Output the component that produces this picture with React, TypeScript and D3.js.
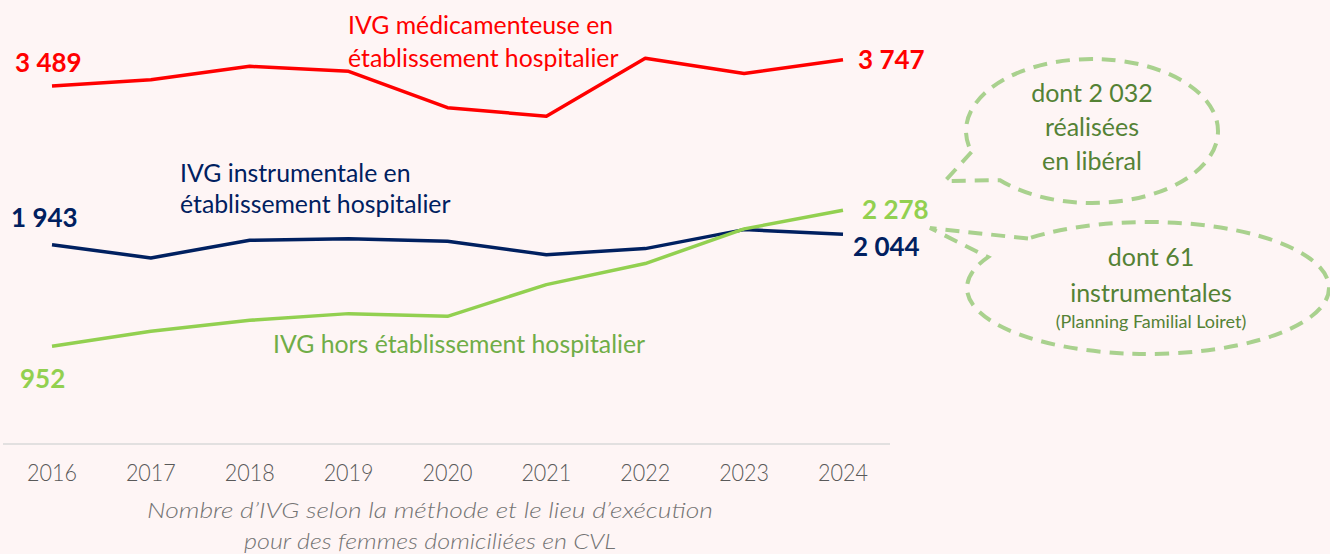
import React from "react";
import * as d3 from "d3";

const years = [2016, 2017, 2018, 2019, 2020, 2021, 2022, 2023, 2024];
const medicamenteuse = [3489, 3552, 3682, 3633, 3279, 3195, 3760, 3611, 3747];
const instrumentale = [1943, 1814, 1986, 2000, 1976, 1846, 1905, 2090, 2044];
const horsEtab = [952, 1099, 1206, 1271, 1245, 1554, 1759, 2097, 2278];

const W = 1330;
const H = 554;
const BG = "#FEF5F5";
const RED = "#FF0000";
const NAVY = "#002060";
const GREEN = "#92D050";
const GREEN_TXT = "#70AD47";
const DARK_GREEN = "#548235";
const BUBBLE = "#A9D18E";
const FONT = "Lato, 'Open Sans', sans-serif";

const fmt = (v: number) => d3.format(",")(v).replace(/,/g, " ");

function bubblePath(
  rx: number, ry: number,
  p1: [number, number], tip: [number, number], p2: [number, number]
) {
  return `M${p1[0]},${p1[1]} L${tip[0]},${tip[1]} L${p2[0]},${p2[1]} A${rx},${ry} 0 1 0 ${p1[0]},${p1[1]}`;
}

function pointAtY(cx: number, cy: number, rx: number, ry: number, yy: number): [number, number] {
  const t = (yy - cy) / ry;
  const dx = rx * Math.sqrt(Math.max(0, 1 - t * t));
  return [cx - dx, yy];
}
function pointAtX(cx: number, cy: number, rx: number, ry: number, xx: number, upper: boolean): [number, number] {
  const t = (xx - cx) / rx;
  const dy = ry * Math.sqrt(Math.max(0, 1 - t * t));
  return [xx, upper ? cy - dy : cy + dy];
}

export default function App() {
  const x = d3.scalePoint<number>().domain(years).range([52, 843]);
  const y = d3.scaleLinear().domain([0, 4000]).range([444, 33.7]);
  const line = d3
    .line<number>()
    .x((_, i) => x(years[i]) as number)
    .y((d) => y(d));

  const series = [
    { values: medicamenteuse, color: RED },
    { values: instrumentale, color: NAVY },
    { values: horsEtab, color: GREEN },
  ];

  const last = years[years.length - 1];

  // bubbles
  const b1 = { cx: 1092, cy: 131, rx: 126, ry: 72 };
  const b1p1 = pointAtY(b1.cx, b1.cy, b1.rx, b1.ry, 152);
  const b1p2 = pointAtX(b1.cx, b1.cy, b1.rx, b1.ry, 1000, false);
  const b2 = { cx: 1148, cy: 288, rx: 181, ry: 66 };
  const b2p1 = pointAtX(b2.cx, b2.cy, b2.rx, b2.ry, 1028, true);
  const b2p2 = pointAtX(b2.cx, b2.cy, b2.rx, b2.ry, 988, true);

  return (
    <svg
      width={W}
      height={H}
      style={{ position: "absolute", left: 0, top: 0 }}
      fontFamily={FONT}
    >
      <rect width={W} height={H} fill={BG} />

      {/* axis line */}
      <line x1={3} x2={890} y1={y(0)} y2={y(0)} stroke="#D9D9D9" strokeWidth={1.5} />

      {/* year labels */}
      {years.map((yr) => (
        <text
          key={yr}
          x={x(yr)}
          y={481}
          textAnchor="middle"
          fontSize={24}
          fontWeight={300}
          fill="#595959"
          textLength={50}
          lengthAdjust="spacingAndGlyphs"
        >
          {yr}
        </text>
      ))}

      {/* lines */}
      {series.map((s, i) => (
        <path key={i} d={line(s.values) as string} fill="none" stroke={s.color} strokeWidth={3.5} strokeLinejoin="round" />
      ))}

      {/* series labels */}
      <text fill={RED} fontSize={24.8}>
        <tspan x={348} y={34}>IVG médicamenteuse en</tspan>
        <tspan x={348} y={67}>établissement hospitalier</tspan>
      </text>
      <text fill={NAVY} fontSize={24.8}>
        <tspan x={180} y={182}>IVG instrumentale en</tspan>
        <tspan x={180} y={213}>établissement hospitalier</tspan>
      </text>
      <text x={273} y={353} fill={GREEN_TXT} fontSize={24.8}>
        IVG hors établissement hospitalier
      </text>

      {/* value labels */}
      <g fontWeight={700} fontSize={26}>
        <text x={15} y={72} fill={RED}>{fmt(medicamenteuse[0])}</text>
        <text x={11} y={227} fill={NAVY}>{fmt(instrumentale[0])}</text>
        <text x={20} y={388} fill={GREEN}>{fmt(horsEtab[0])}</text>
        <text x={(x(last) as number) + 15} y={69} fill={RED}>{fmt(medicamenteuse[8])}</text>
        <text x={(x(last) as number) + 19} y={219} fill={GREEN}>{fmt(horsEtab[8])}</text>
        <text x={(x(last) as number) + 10} y={256} fill={NAVY}>{fmt(instrumentale[8])}</text>
      </g>

      {/* bubbles */}
      <g fill="none" stroke={BUBBLE} strokeWidth={4} strokeDasharray="14 9">
        <path d={bubblePath(b1.rx, b1.ry, b1p1, [945, 181], b1p2)} />
        <path d={bubblePath(b2.rx, b2.ry, b2p1, [930, 228], b2p2)} />
      </g>
      <g fill={DARK_GREEN} textAnchor="middle" fontSize={25}>
        <text x={b1.cx} y={102}>dont 2 032</text>
        <text x={b1.cx} y={136}>réalisées</text>
        <text x={b1.cx} y={170}>en libéral</text>
        <text x={1151} y={266}>dont 61</text>
        <text x={1151} y={302}>instrumentales</text>
        <text x={1151} y={328} fontSize={18}>(Planning Familial Loiret)</text>
      </g>

      {/* caption */}
      <g fill="#737373" fontStyle="italic" fontWeight={300} fontSize={22} textAnchor="middle">
        <text x={430} y={518} textLength={566} lengthAdjust="spacingAndGlyphs">
          Nombre d’IVG selon la méthode et le lieu d’exécution
        </text>
        <text x={430} y={549} textLength={372} lengthAdjust="spacingAndGlyphs">
          pour des femmes domiciliées en CVL
        </text>
      </g>
    </svg>
  );
}
